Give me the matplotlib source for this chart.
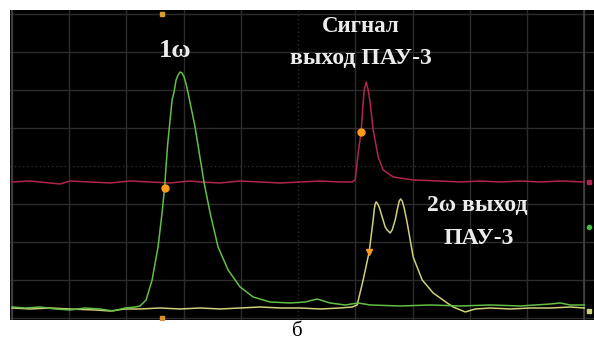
import matplotlib.pyplot as plt

# Oscilloscope screen, units = grid divisions (10 x 8)
red_x = [0, 0.315, 0.664, 0.839, 1.014, 1.364, 1.713, 2.063, 2.413, 2.762, 3.112, 3.287,
         3.636, 3.986, 4.336, 4.685, 5.035, 5.385, 5.734, 5.944, 5.997, 6.049, 6.101,
         6.136, 6.154, 6.189, 6.224, 6.259, 6.311, 6.399, 6.486, 6.661, 7.010, 7.483,
         7.832, 8.182, 8.531, 8.881, 9.231, 9.580, 10.0]
red_y = [3.579, 3.605, 3.553, 3.526, 3.605, 3.579, 3.553, 3.605, 3.579, 3.553, 3.605, 3.579,
         3.553, 3.605, 3.579, 3.553, 3.579, 3.605, 3.579, 3.579, 3.632, 4.342, 4.895,
         5.658, 6.0, 6.211, 6.0, 5.658, 4.947, 4.237, 3.895, 3.711, 3.632, 3.605,
         3.579, 3.605, 3.579, 3.605, 3.579, 3.605, 3.579]

green_x = [0, 0.227, 0.49, 0.752, 1.014, 1.276, 1.538, 1.766, 1.976, 2.150, 2.238, 2.343,
           2.448, 2.552, 2.622, 2.666, 2.719, 2.797, 2.832, 2.867, 2.902, 2.937, 2.972,
           3.007, 3.042, 3.077, 3.199, 3.357, 3.462, 3.601, 3.776, 3.986, 4.213, 4.510,
           4.860, 5.122, 5.332, 5.559, 5.822, 6.049, 6.259, 6.783, 7.308, 7.832, 8.357,
           8.881, 9.406, 9.580, 9.755, 10.0]
green_y = [0.289, 0.263, 0.289, 0.237, 0.211, 0.263, 0.237, 0.184, 0.263, 0.289, 0.316, 0.474,
           1.0, 1.868, 2.763, 3.421, 4.553, 5.737, 5.947, 6.263, 6.395, 6.474, 6.447,
           6.342, 6.158, 5.921, 5.026, 3.553, 2.763, 1.868, 1.263, 0.816, 0.553, 0.421,
           0.395, 0.421, 0.5, 0.395, 0.342, 0.395, 0.342, 0.316, 0.342, 0.316, 0.342,
           0.316, 0.368, 0.395, 0.342, 0.342]

yellow_x = [0, 0.315, 0.664, 1.014, 1.451, 1.713, 1.976, 2.238, 2.587, 2.937, 3.287, 3.636,
            3.986, 4.336, 4.685, 5.035, 5.385, 5.734, 5.944, 6.031, 6.136, 6.241, 6.311,
            6.329, 6.346, 6.364, 6.381, 6.416, 6.521, 6.556, 6.608, 6.643, 6.696, 6.731,
            6.766, 6.792, 6.818, 6.853, 6.906, 7.010, 7.168, 7.360, 7.605, 7.710, 7.920,
            8.094, 8.357, 8.706, 9.056, 9.406, 9.755, 10.0]
yellow_y = [0.263, 0.237, 0.263, 0.237, 0.211, 0.184, 0.237, 0.237, 0.263, 0.237, 0.263, 0.237,
            0.263, 0.289, 0.263, 0.263, 0.237, 0.263, 0.289, 0.342, 1.0, 1.737, 2.579,
            2.842, 3.0, 3.053, 3.026, 2.921, 2.395, 2.316, 2.237, 2.316, 2.579, 2.842,
            3.079, 3.132, 3.079, 2.895, 2.5, 1.605, 1.0, 0.658, 0.395, 0.289, 0.158,
            0.237, 0.263, 0.237, 0.263, 0.263, 0.289, 0.263]

# trigger / cursor markers
dot_x = [2.666, 6.101]
dot_y = [3.421, 4.895]
tri_x = [6.241]
tri_y = [1.737]

fig = plt.figure(figsize=(5.94, 3.41), dpi=100)
ax = fig.add_axes([10 / 594, 21 / 341, 584 / 594, 310 / 341])
ax.set_facecolor('black')
ax.set_xlim(-0.035, 10.17)
ax.set_ylim(-0.053, 8.105)
ax.set_xticks([])
ax.set_yticks([])
for s in ax.spines.values():
    s.set_visible(False)

# graticule
for k in range(11):
    ls = (0, (1, 2)) if k == 5 else '-'
    ax.axvline(k, color='#2c2c2c', lw=1, ls=ls, zorder=1)
for k in range(9):
    ls = (0, (1, 2)) if k == 4 else '-'
    ax.axhline(k, color='#2c2c2c', lw=1, ls=ls, zorder=1)
ax.axvline(0, color='#444444', lw=1.2, zorder=1)
ax.axvline(10, color='#444444', lw=1.2, zorder=1)

ax.plot(red_x, red_y, color='#b0254a', lw=1.1, zorder=3)
ax.plot(yellow_x, yellow_y, color='#cfd07a', lw=1.1, zorder=3)
ax.plot(green_x, green_y, color='#62bf45', lw=1.1, zorder=4)

ax.plot(dot_x, dot_y, 'o', color='#ff9a1a', ms=5, zorder=5)
ax.plot(tri_x, tri_y, 'v', color='#ff9a1a', ms=5, zorder=5)
ax.plot([2.622], [8.0], 's', color='#d8a030', ms=2.5, zorder=5)
ax.plot([2.622], [0.0], 's', color='#d89030', ms=2.5, zorder=5)
ax.plot([10.08], [3.58], 's', color='#b0254a', ms=3, zorder=5)
ax.plot([10.08], [2.39], 'o', color='#40c040', ms=3, zorder=5)
ax.plot([10.08], [0.18], 's', color='#cfd07a', ms=3, zorder=5)

tkw = dict(family='Liberation Serif', weight='bold', color='#ececec',
           ha='center', va='center', zorder=6)
ax.text(2.85, 7.03, '1ω', fontsize=19, **tkw)
ax.text(6.10, 7.68, 'Сигнал', fontsize=16.5, **tkw)
ax.text(6.10, 6.84, 'выход ПАУ-3', fontsize=17, **tkw)
ax.text(8.13, 2.97, '2ω выход', fontsize=17, **tkw)
ax.text(8.16, 2.10, 'ПАУ-3', fontsize=17, **tkw)

fig.text(297 / 594, 1 - 331 / 341, 'б', family='Liberation Serif',
         fontsize=15, color='black', ha='center', va='center')

fig.savefig('out.png', dpi=100, facecolor='white')
